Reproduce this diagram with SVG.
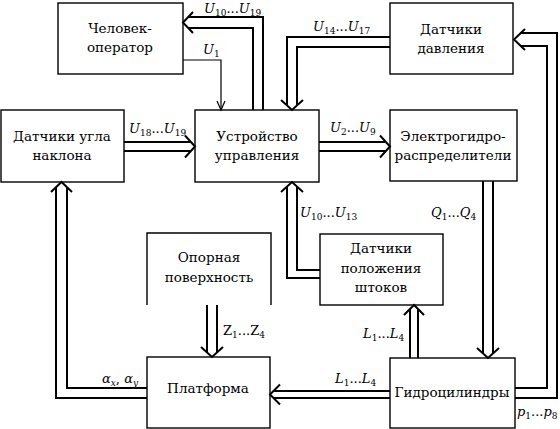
<svg xmlns="http://www.w3.org/2000/svg" width="560" height="429" viewBox="0 0 560 429">
<style>
.box{fill:#fff;stroke:#000;stroke-width:1.4}
.t{font-size:13.5px;text-anchor:middle;fill:#000}
.c{fill:none;stroke:#000;stroke-width:2;stroke-linejoin:miter}
.thin{fill:none;stroke:#000;stroke-width:1.2}
.l{font-size:13px;fill:#000}
.i{font-style:italic}
.s{font-size:9px}
</style>
<rect width="560" height="429" fill="#fff"/>
<g font-family="'DejaVu Serif', 'Liberation Serif', serif">
<g id="operator"><rect class="box" x="58" y="3" width="125" height="71"/><text class="t" x="120" y="33">Человек-</text><text class="t" x="120" y="52">оператор</text></g>
<g id="pressure"><rect class="box" x="390" y="3" width="123" height="71"/><text class="t" x="451" y="34">Датчики</text><text class="t" x="451" y="53">давления</text></g>
<g id="tilt"><rect class="box" x="1" y="110" width="123" height="72"/><text class="t" x="62" y="141">Датчики угла</text><text class="t" x="62" y="160">наклона</text></g>
<g id="control"><rect class="box" x="195" y="110" width="124" height="72"/><text class="t" x="257" y="141">Устройство</text><text class="t" x="257" y="160">управления</text></g>
<g id="valves"><rect class="box" x="390" y="110" width="127" height="71"/><text class="t" x="453" y="141">Электрогидро-</text><text class="t" x="453" y="160">распределители</text></g>
<g id="surface"><path class="box" d="M147,305 V233 H271 V305"/><text class="t" x="209" y="262">Опорная</text><text class="t" x="209" y="282">поверхность</text></g>
<g id="rodsensors"><rect class="box" x="320" y="234" width="123" height="71"/><text class="t" x="381" y="253">Датчики</text><text class="t" x="381" y="273">положения</text><text class="t" x="381" y="292">штоков</text></g>
<g id="platform"><rect class="box" x="147" y="357" width="123" height="71"/><text class="t" x="208" y="393">Платформа</text></g>
<g id="cylinders"><rect class="box" x="390" y="358" width="125" height="70"/><text class="t" x="452" y="397">Гидроцилиндры</text></g>
<g id="connectors">
<polyline class="c" points="263,110 263,17 188,17"/><polyline class="c" points="253,110 253,28 188,28"/><polyline class="c" points="193,12 183,22.5 193,33"/>
<polyline class="thin" points="183,60 221,60 221,110"/><polyline class="thin" points="217,101 221,110 225,101"/>
<polyline class="c" points="390,37 287,37 287,105.5"/><polyline class="c" points="390,47 297,47 297,105.5"/><polyline class="c" points="281,100 292,110 303,100"/>
<polyline class="c" points="124,142 190.5,142"/><polyline class="c" points="124,151 190.5,151"/><polyline class="c" points="185,135.5 195,146.5 185,157.5"/>
<polyline class="c" points="319,142 385.5,142"/><polyline class="c" points="319,151 385.5,151"/><polyline class="c" points="380,135.5 390,146.5 380,157.5"/>
<polyline class="c" points="483,181 483,353.5"/><polyline class="c" points="493,181 493,353.5"/><polyline class="c" points="477,348 488,358 499,348"/>
<polyline class="c" points="320,278 287,278 287,186.5"/><polyline class="c" points="320,270 297,270 297,186.5"/><polyline class="c" points="281,192 292,182 303,192"/>
<polyline class="c" points="410,358 410,309"/><polyline class="c" points="418,358 418,309"/><polyline class="c" points="404,315 414,305 424,315"/>
<polyline class="c" points="390,391 273.5,391"/><polyline class="c" points="390,398 273.5,398"/><polyline class="c" points="280,384.5 270,394.5 280,404.5"/>
<polyline class="c" points="515,398 557,398 557,33 520,33"/><polyline class="c" points="515,388 547,388 547,46 520,46"/><polyline class="c" points="525,29 514,39.5 525,50"/>
<polyline class="c" points="207,305 207,352"/><polyline class="c" points="217,305 217,352"/><polyline class="c" points="201,347 212,357 223,347"/>
<polyline class="c" points="147,388 67,388 67,187"/><polyline class="c" points="147,398 56,398 56,187"/><polyline class="c" points="51,192 61.5,182 72,192"/>
</g>
<g id="labels">
<text class="l" x="204" y="13"><tspan class="i">U</tspan><tspan class="s" dy="3">10</tspan><tspan dy="-3">...</tspan><tspan class="i">U</tspan><tspan class="s" dy="3">19</tspan></text>
<text class="l" x="203" y="54"><tspan class="i">U</tspan><tspan class="s" dy="3">1</tspan></text>
<text class="l" x="313" y="31"><tspan class="i">U</tspan><tspan class="s" dy="3">14</tspan><tspan dy="-3">...</tspan><tspan class="i">U</tspan><tspan class="s" dy="3">17</tspan></text>
<text class="l" x="129" y="133"><tspan class="i">U</tspan><tspan class="s" dy="3">18</tspan><tspan dy="-3">...</tspan><tspan class="i">U</tspan><tspan class="s" dy="3">19</tspan></text>
<text class="l" x="330" y="132"><tspan class="i">U</tspan><tspan class="s" dy="3">2</tspan><tspan dy="-3">...</tspan><tspan class="i">U</tspan><tspan class="s" dy="3">9</tspan></text>
<text class="l" x="300" y="217"><tspan class="i">U</tspan><tspan class="s" dy="3">10</tspan><tspan dy="-3">...</tspan><tspan class="i">U</tspan><tspan class="s" dy="3">13</tspan></text>
<text class="l" x="431" y="217"><tspan class="i">Q</tspan><tspan class="s" dy="3">1</tspan><tspan dy="-3">...</tspan><tspan class="i">Q</tspan><tspan class="s" dy="3">4</tspan></text>
<text class="l" x="223" y="335">Z<tspan class="s" dy="3">1</tspan><tspan dy="-3">...</tspan>Z<tspan class="s" dy="3">4</tspan></text>
<text class="l" x="363" y="338"><tspan class="i">L</tspan><tspan class="s" dy="3">1</tspan><tspan dy="-3">...</tspan><tspan class="i">L</tspan><tspan class="s" dy="3">4</tspan></text>
<text class="l" x="335" y="383"><tspan class="i">L</tspan><tspan class="s" dy="3">1</tspan><tspan dy="-3">...</tspan><tspan class="i">L</tspan><tspan class="s" dy="3">4</tspan></text>
<text class="l" x="102" y="383"><tspan class="i">α</tspan><tspan class="s i" dy="3">x</tspan><tspan dy="-3">, </tspan><tspan class="i">α</tspan><tspan class="s i" dy="3">y</tspan></text>
<text class="l" x="517" y="416"><tspan class="i">p</tspan><tspan class="s" dy="3">1</tspan><tspan dy="-3">...</tspan><tspan class="i">p</tspan><tspan class="s" dy="3">8</tspan></text>
</g>
</g>
</svg>
